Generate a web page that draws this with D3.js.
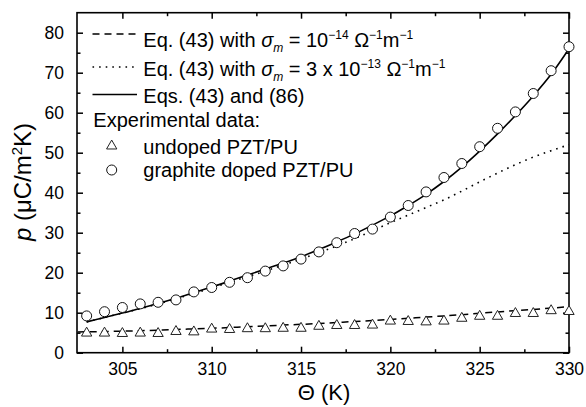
<!DOCTYPE html>
<html><head><meta charset="utf-8">
<script src="https://cdn.jsdelivr.net/npm/d3@7"></script>
<style>
html,body{margin:0;padding:0;background:#fff;}
svg{display:block;font-family:"Liberation Sans",Arial,sans-serif;}
</style></head>
<body>
<svg id="c" width="586" height="407"></svg>
<script>
// ---- data ----
const temps = [303,304,305,306,307,308,309,310,311,312,313,314,315,316,317,318,319,320,321,322,323,324,325,326,327,328,329,330];
const graphiteDoped = [9.2,10.25,11.3,12.2,12.6,13.2,15.2,16.3,17.6,18.75,20.4,21.7,23.4,25.2,27.5,29.8,30.9,33.9,36.8,40.2,43.8,47.3,51.5,56.1,60.2,64.8,70.5,76.5];
const undoped = [4.9,4.9,4.8,4.9,4.8,5.3,5.2,5.9,5.8,6.0,6.0,6.1,6.1,6.6,6.8,6.8,6.9,7.9,7.8,7.7,7.9,8.6,9.1,9.1,9.8,9.8,10.5,10.3];
const fullModel = [7.7,8.8,9.9,11.1,12.3,13.6,15.0,16.4,17.9,19.4,20.9,22.4,24.0,25.8,27.7,29.7,31.9,34.2,36.8,39.6,42.8,46.4,50.4,54.7,59.3,64.2,69.6,76.0];
const sigma3e13 = [7.7,8.8,9.9,11.0,12.2,13.5,14.8,16.2,17.6,19.0,20.4,21.9,23.4,25.0,26.7,28.5,30.5,32.5,34.4,36.3,38.2,40.4,42.7,44.9,47.0,48.9,50.5,52.0];
const sigma1e14T = [302.5,304,306,308,310,312,314,316,318,320,322,324,326,328,330];
const sigma1e14 = [5.2,5.3,5.5,5.8,6.1,6.5,6.9,7.3,7.8,8.3,8.9,9.5,10.2,10.8,11.5];
const xTicks = [305,310,315,320,325,330];
const xMinor = [307.5,312.5,317.5,322.5,327.5];
const yTicks = [0,10,20,30,40,50,60,70,80];
const yMinor = [5,15,25,35,45,55,65,75];

// ---- layout ----
const L = 77, R = 569, T = 12.7, B = 352.7;
const svg = d3.select("#c");
const x = d3.scaleLinear().domain([302.46, 330]).range([L, R]);
const y = d3.scaleLinear().domain([0, 85]).range([B, T]);

const g = svg.append("g");
const FS = 17.5;

function axisGroup(axisFn, transform, labels) {
  const a = g.append("g").attr("transform", transform).call(axisFn);
  a.select(".domain").remove();
  a.selectAll("line").attr("stroke", "#000").attr("stroke-width", 1.5);
  a.selectAll("text").attr("font-size", FS).attr("fill", "#000").attr("font-family", "Liberation Sans, Arial, sans-serif");
  if (!labels) a.selectAll("text").remove();
  return a;
}
axisGroup(d3.axisBottom(x).tickValues(xTicks).tickSize(-6).tickPadding(10).tickFormat(d3.format("d")), `translate(0,${B})`, true);
axisGroup(d3.axisBottom(x).tickValues(xMinor).tickSize(-3.5), `translate(0,${B})`, false);
axisGroup(d3.axisTop(x).tickValues(xTicks).tickSize(-6), `translate(0,${T})`, false);
axisGroup(d3.axisTop(x).tickValues(xMinor).tickSize(-3.5), `translate(0,${T})`, false);
axisGroup(d3.axisLeft(y).tickValues(yTicks).tickSize(-6).tickPadding(13), `translate(${L},0)`, true);
axisGroup(d3.axisLeft(y).tickValues(yMinor).tickSize(-3.5), `translate(${L},0)`, false);
axisGroup(d3.axisRight(y).tickValues(yTicks).tickSize(-6), `translate(${R},0)`, false);
axisGroup(d3.axisRight(y).tickValues(yMinor).tickSize(-3.5), `translate(${R},0)`, false);

g.append("rect").attr("x", L).attr("y", T).attr("width", R - L).attr("height", B - T)
  .attr("fill", "none").attr("stroke", "#000").attr("stroke-width", 1.6);

const line = d3.line().x(d => x(d[0])).y(d => y(d[1])).curve(d3.curveMonotoneX);
g.append("path").datum(sigma1e14T.map((t, i) => [t, sigma1e14[i]]))
  .attr("d", line).attr("fill", "none").attr("stroke", "#000").attr("stroke-width", 1.5).attr("stroke-dasharray", "7,5");
g.append("path").datum(temps.map((t, i) => [t, sigma3e13[i]]))
  .attr("d", line).attr("fill", "none").attr("stroke", "#000").attr("stroke-width", 1.6).attr("stroke-dasharray", "1.6,5");
g.append("path").datum(temps.map((t, i) => [t, fullModel[i]]))
  .attr("d", line).attr("fill", "none").attr("stroke", "#000").attr("stroke-width", 1.6);

const tri = d3.symbol().type(d3.symbolTriangle).size(46);
g.selectAll(".tri").data(temps.map((t, i) => [t, undoped[i]])).enter().append("path")
  .attr("d", tri).attr("transform", d => `translate(${x(d[0])},${y(d[1])})`)
  .attr("fill", "#fff").attr("stroke", "#222").attr("stroke-width", 1);
g.selectAll(".circ").data(temps.map((t, i) => [t, graphiteDoped[i]])).enter().append("circle")
  .attr("cx", d => x(d[0])).attr("cy", d => y(d[1])).attr("r", 5)
  .attr("fill", "#fff").attr("stroke", "#111").attr("stroke-width", 1);

const LF = 20;
const lx0 = 92.5, lx1 = 137, tx = 143.3;
const leg = g.append("g").attr("font-size", LF).attr("fill", "#000");
leg.append("line").attr("x1", lx0).attr("x2", lx1).attr("y1", 34).attr("y2", 34)
  .attr("stroke", "#000").attr("stroke-width", 1.5).attr("stroke-dasharray", "7,5");
leg.append("line").attr("x1", lx0).attr("x2", lx1).attr("y1", 67).attr("y2", 67)
  .attr("stroke", "#000").attr("stroke-width", 1.6).attr("stroke-dasharray", "1.6,5");
leg.append("line").attr("x1", lx0).attr("x2", lx1).attr("y1", 94.5).attr("y2", 94.5)
  .attr("stroke", "#000").attr("stroke-width", 1.6);

function sigmaRow(yb, val) {
  const t = leg.append("text").attr("x", tx).attr("y", yb);
  t.append("tspan").text("Eq. (43) with ");
  t.append("tspan").attr("font-style", "italic").text("σ");
  t.append("tspan").attr("font-style", "italic").attr("font-size", 12).attr("dy", 5).text("m");
  t.append("tspan").attr("dy", -5).text(" = " + val);
  t.append("tspan").attr("font-size", 12).attr("dy", -8).text("−" + (val === "10" ? "14" : "13"));
  t.append("tspan").attr("dy", 8).text(" Ω");
  t.append("tspan").attr("font-size", 12).attr("dy", -8).text("−1");
  t.append("tspan").attr("dy", 8).text("m");
  t.append("tspan").attr("font-size", 12).attr("dy", -8).text("−1");
}
sigmaRow(46.5, "10");
sigmaRow(76, "3 x 10");
leg.append("text").attr("x", tx).attr("y", 103).text("Eqs. (43) and (86)");
leg.append("text").attr("x", 93.3).attr("y", 127).text("Experimental data:");
leg.append("path").attr("d", tri).attr("transform", "translate(111.7,146)")
  .attr("fill", "#fff").attr("stroke", "#222").attr("stroke-width", 1);
leg.append("text").attr("x", tx).attr("y", 153.5).text("undoped PZT/PU");
leg.append("circle").attr("cx", 111.7).attr("cy", 170).attr("r", 5)
  .attr("fill", "#fff").attr("stroke", "#111").attr("stroke-width", 1);
leg.append("text").attr("x", tx).attr("y", 177).text("graphite doped PZT/PU");

g.append("text").attr("x", 324).attr("y", 400).attr("text-anchor", "middle").attr("font-size", 22).text("Θ (K)");
const yl = g.append("text").attr("transform", "translate(31,182) rotate(-90)").attr("text-anchor", "middle").attr("font-size", 24);
yl.append("tspan").attr("font-style", "italic").text("p");
yl.append("tspan").text(" (μC/m");
yl.append("tspan").attr("font-size", 15).attr("dy", -9).text("2");
yl.append("tspan").attr("dy", 9).text("K)");
</script>
</body></html>
